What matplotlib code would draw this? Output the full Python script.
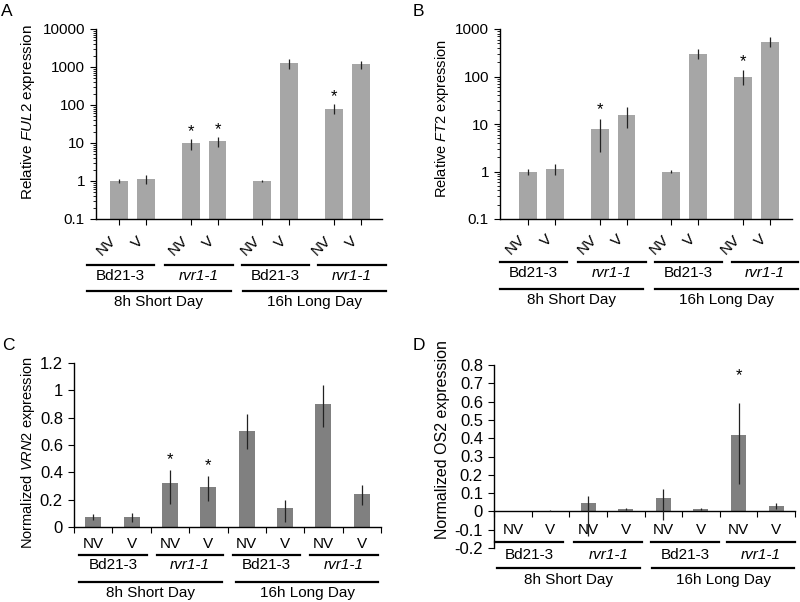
import numpy as np
import matplotlib
matplotlib.use('Agg')
import matplotlib.pyplot as plt
from matplotlib.lines import Line2D

plt.rcParams['font.family'] = ['Liberation Sans', 'DejaVu Sans']
plt.rcParams['mathtext.fontset'] = 'custom'
plt.rcParams['mathtext.rm'] = 'Liberation Sans'
plt.rcParams['mathtext.it'] = 'Liberation Sans:italic'

W, H = 800, 602

# data
treat = ['NV', 'V', 'NV', 'V', 'NV', 'V', 'NV', 'V']
lines = ['Bd21-3', 'rvr1-1', 'Bd21-3', 'rvr1-1']
days = ['8h Short Day', '16h Long Day']

ful2 = [1.0, 1.1, 9.8, 11.3, 1.0, 1250, 80, 1170]
ful2_lo = [0.87, 0.85, 6.4, 8.0, 0.95, 870, 57, 870]
ful2_hi = [1.15, 1.4, 13, 14.7, 1.05, 1600, 104, 1440]
ful2_star = [2, 3, 6]

ft2 = [1.0, 1.12, 7.7, 15.3, 1.0, 300, 97, 540]
ft2_lo = [0.86, 0.84, 2.55, 8.3, 0.95, 228, 66, 410]
ft2_hi = [1.15, 1.47, 13, 23, 1.06, 380, 135, 675]
ft2_star = [2, 6]

vrn2 = [0.073, 0.073, 0.32, 0.295, 0.705, 0.14, 0.90, 0.245]
vrn2_lo = [0.05, 0.04, 0.17, 0.19, 0.57, 0.04, 0.735, 0.16]
vrn2_hi = [0.097, 0.10, 0.42, 0.375, 0.825, 0.20, 1.04, 0.31]
vrn2_star = [2, 3]

os2 = [0.0, 0.003, 0.045, 0.012, 0.075, 0.012, 0.42, 0.03]
os2_lo = [0.0, 0.001, -0.136, 0.007, -0.047, 0.007, 0.15, 0.015]
os2_hi = [0.0, 0.005, 0.085, 0.018, 0.124, 0.018, 0.595, 0.045]
os2_star = [6]


def fx(x):
    return x / W


def fy(y):
    return 1 - y / H


fig = plt.figure(figsize=(8, 6.02), dpi=100)


def add_axes(l, r, t, b):
    return fig.add_axes([fx(l), fy(b), fx(r) - fx(l), (b - t) / H])


def style(ax):
    for s in ['top', 'right']:
        ax.spines[s].set_visible(False)
    for s in ['left', 'bottom']:
        ax.spines[s].set_linewidth(1.0)
    ax.tick_params(direction='out', width=0.8, length=4.5, labelsize=11)
    ax.tick_params(which='minor', width=0.6, length=2.5)


def draw_bars(ax, pos, vals, lo, hi, stars, color, width, star_off):
    vals = np.array(vals, dtype=float)
    yerr = [vals - np.array(lo), np.array(hi) - vals]
    ax.bar(pos, vals, width, color=color, zorder=2)
    ax.errorbar(pos, vals, yerr=yerr, fmt='none', ecolor='#222222',
                elinewidth=0.9, capsize=0, zorder=3)
    for i in stars:
        ax.annotate('*', (pos[i], hi[i]), xytext=(0, star_off),
                    textcoords='offset points', ha='center', va='bottom',
                    fontsize=12)


def group_labels(lvl1_y, txt1_y, lvl2_y, txt2_y, spans1, spans2, size=11):
    for (x0, x1), name in zip(spans1, lines):
        fig.add_artist(Line2D([fx(x0), fx(x1)], [fy(lvl1_y)] * 2,
                              color='black', lw=1.6))
        fig.text(fx((x0 + x1) / 2), fy(txt1_y), name, ha='center', va='center',
                 fontsize=size, style='italic' if 'rvr' in name else 'normal')
    for (x0, x1), name in zip(spans2, days):
        fig.add_artist(Line2D([fx(x0), fx(x1)], [fy(lvl2_y)] * 2,
                              color='black', lw=1.6))
        fig.text(fx((x0 + x1) / 2), fy(txt2_y), name, ha='center', va='center',
                 fontsize=size)


light = '#a6a6a6'
dark = '#808080'

# ---------- A ----------
posA = np.array([0, 1, 2.68, 3.68, 5.36, 6.36, 8.04, 9.04])
ax = add_axes(96, 382, 29, 219)
style(ax)
ax.set_yscale('log')
ax.set_ylim(0.1, 10000)
ax.set_xlim(-0.87, 9.84)
draw_bars(ax, posA, ful2, ful2_lo, ful2_hi, ful2_star, light, 0.67, 0)
ax.set_yticks([0.1, 1, 10, 100, 1000, 10000])
ax.set_yticklabels(['0.1', '1', '10', '100', '1000', '10000'])
ax.set_xticks(posA)
ax.set_xticklabels(treat, rotation=45, ha='right', va='top')
ax.tick_params(axis='x', pad=6)
fig.text(fx(28), fy(112), r'Relative $\it{FUL2}$ expression', rotation=90,
         ha='center', va='center', fontsize=11)
group_labels(264.5, 276.5, 291, 302,
             [(86.7, 154.3), (165, 233.3), (241.7, 309.3), (317.7, 386)],
             [(86.7, 231), (242.7, 386)])

# ---------- B ----------
ax = add_axes(500, 792, 29, 219)
style(ax)
ax.set_yscale('log')
ax.set_ylim(0.1, 1000)
ax.set_xlim(-1.06, 9.88)
draw_bars(ax, posA, ft2, ft2_lo, ft2_hi, ft2_star, light, 0.67, 1)
ax.set_yticks([0.1, 1, 10, 100, 1000])
ax.set_yticklabels(['0.1', '1', '10', '100', '1000'])
ax.set_xticks(posA)
ax.set_xticklabels(treat, rotation=45, ha='right', va='top')
ax.tick_params(axis='x', pad=5)
fig.text(fx(442), fy(119), r'Relative $\it{FT2}$ expression', rotation=90,
         ha='center', va='center', fontsize=10.5)
group_labels(261.7, 273.3, 289.3, 300,
             [(500, 566.7), (578.3, 645.7), (655, 722.3), (731.7, 798.3)],
             [(500, 643.3), (655, 798.3)])

# ---------- C ----------
posC = np.arange(8)
ax = add_axes(74, 381, 363, 527)
style(ax)
ax.set_ylim(0, 1.2)
ax.set_xlim(-0.5, 7.5)
draw_bars(ax, posC, vrn2, vrn2_lo, vrn2_hi, vrn2_star, dark, 0.42, 2)
ax.set_yticks(np.arange(0, 1.21, 0.2))
ax.set_yticklabels(['0', '0.2', '0.4', '0.6', '0.8', '1', '1.2'], fontsize=12)
ax.set_xticks(np.arange(-0.5, 7.6, 1))
ax.set_xticklabels([])
ax.set_xticks(posC, minor=True)
ax.set_xticklabels(treat, minor=True, fontsize=11)
ax.tick_params(axis='x', which='minor', length=0, pad=7)
fig.text(fx(28), fy(453), r'Normalized $\it{VRN2}$ expression', rotation=90,
         ha='center', va='center', fontsize=10.5)
group_labels(555, 565, 581.7, 593,
             [(79, 146.7), (156.7, 223.3), (233.3, 300), (310, 378.3)],
             [(79, 222.3), (235.7, 378.3)])

# ---------- D ----------
ax = add_axes(494, 795, 365, 548)
style(ax)
ax.set_ylim(-0.2, 0.8)
ax.set_xlim(-0.5, 7.5)
ax.spines['bottom'].set_position(('data', 0))
draw_bars(ax, posC, os2, os2_lo, os2_hi, os2_star, dark, 0.4, 14)
ax.set_yticks(np.arange(-0.2, 0.81, 0.1))
ax.set_yticklabels(['-0.2', '-0.1', '0', '0.1', '0.2', '0.3', '0.4', '0.5',
                    '0.6', '0.7', '0.8'], fontsize=12)
ax.set_xticks(np.arange(-0.5, 7.6, 1))
ax.set_xticklabels([])
ax.set_xticks(posC, minor=True)
ax.set_xticklabels(treat, minor=True, fontsize=11)
ax.tick_params(axis='x', which='minor', length=0, pad=8)
fig.text(fx(442), fy(440), 'Normalized OS2 expression', rotation=90,
         ha='center', va='center', fontsize=11.5)
group_labels(541.5, 555, 568, 580,
             [(495, 563.3), (574.3, 642.3), (651, 719), (727.3, 795)],
             [(496.7, 640), (651.7, 794.3)])

# panel letters
for letter, x, y in [('A', 1, 12), ('B', 413, 12), ('C', 2, 345), ('D', 413, 345)]:
    fig.text(fx(x), fy(y), letter, ha='left', va='center', fontsize=12.5)

fig.savefig('out.png', dpi=100)
